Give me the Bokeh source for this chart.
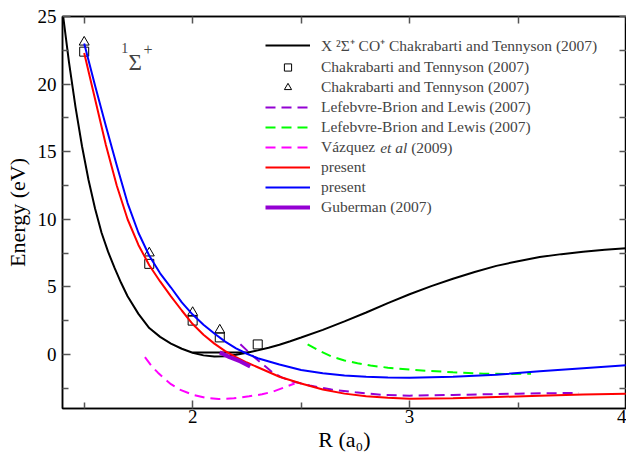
from bokeh.plotting import figure
from bokeh.models import Range1d, LinearAxis, FixedTicker, Label, Legend, LegendItem
from bokeh.embed import file_html
from bokeh.resources import INLINE

# ---------------- data ----------------
# X 2Sigma+ CO+ ground state, Chakrabarti and Tennyson (2007)
ion_R = [1.40, 1.43, 1.46, 1.49, 1.52, 1.55, 1.58, 1.61, 1.64, 1.67, 1.70, 1.75, 1.80, 1.85,
         1.90, 1.95, 2.00, 2.05, 2.10, 2.15, 2.20, 2.25, 2.30, 2.35, 2.40, 2.45, 2.50, 2.60,
         2.70, 2.80, 2.90, 3.00, 3.10, 3.20, 3.30, 3.40, 3.50, 3.60, 3.70, 3.80, 3.90, 4.00]
ion_E = [25.4, 21.6, 18.3, 15.4, 12.9, 10.8, 9.0, 7.6, 6.4, 5.3, 4.3, 3.0, 1.95, 1.3,
         0.8, 0.42, 0.12, -0.07, -0.15, -0.13, -0.03, 0.12, 0.3, 0.5, 0.72, 0.98, 1.25, 1.82,
         2.45, 3.1, 3.8, 4.45, 5.05, 5.6, 6.1, 6.55, 6.9, 7.2, 7.42, 7.6, 7.75, 7.85]
# vibrational level line of the ion
level_R = [2.0, 2.26]
level_E = [0.15, 0.15]

# Chakrabarti and Tennyson (2007) points
sq_R = [1.5, 1.8, 2.0, 2.125, 2.3]
sq_E = [22.4, 6.7, 2.5, 1.26, 0.74]
tri_R = [1.5, 1.8, 2.0, 2.125]
tri_E = [23.1, 7.5, 3.1, 1.8]

# Lefebvre-Brion and Lewis (2007), violet dashed
lb1_R = [2.22, 2.25, 2.28, 2.31, 2.34, 2.37, 2.41, 2.46, 2.54, 2.64, 2.75, 2.88, 3.00,
         3.20, 3.35, 3.50, 3.65, 3.78]
lb1_E = [0.75, 0.3, -0.15, -0.55, -0.95, -1.35, -1.7, -2.0, -2.3, -2.6, -2.8, -3.0, -3.05,
         -3.0, -2.95, -2.9, -2.87, -2.85]

# Lefebvre-Brion and Lewis (2007), green dashed
lb2_R = [2.53, 2.58, 2.64, 2.70, 2.76, 2.82, 2.90, 3.00, 3.10, 3.20, 3.34, 3.45, 3.56]
lb2_E = [0.75, 0.3, -0.15, -0.45, -0.65, -0.82, -0.98, -1.12, -1.23, -1.32, -1.42, -1.45, -1.42]

# Vazquez et al (2009), magenta dashed
vz_R = [1.78, 1.81, 1.84, 1.87, 1.90, 1.94, 2.00, 2.06, 2.12, 2.19, 2.26, 2.32, 2.37, 2.42, 2.47]
vz_E = [-0.2, -0.85, -1.35, -1.8, -2.2, -2.6, -2.98, -3.2, -3.3, -3.25, -3.1, -2.95, -2.75,
        -2.45, -2.15]

# present work
pr_R = [1.50, 1.55, 1.60, 1.65, 1.70, 1.75, 1.80, 1.85, 1.90, 1.95, 2.00, 2.05, 2.10, 2.15,
        2.20, 2.25, 2.30, 2.40, 2.50, 2.60, 2.70, 2.80, 2.90, 3.00, 3.20, 3.40, 3.60, 3.80, 4.00]
red_E = [22.3, 18.9, 15.5, 12.5, 10.0, 8.1, 6.6, 5.4, 4.3, 3.25, 2.25, 1.45, 0.8, 0.25,
         -0.2, -0.6, -0.95, -1.65, -2.15, -2.6, -2.9, -3.1, -3.2, -3.28, -3.25, -3.15, -3.05,
         -2.97, -2.9]
blue_E = [23.0, 19.9, 16.9, 14.0, 11.2, 9.0, 7.3, 6.0, 4.95, 3.85, 2.95, 2.2, 1.55, 0.95,
          0.45, 0.05, -0.28, -0.75, -1.15, -1.4, -1.55, -1.65, -1.7, -1.72, -1.65, -1.5,
          -1.25, -1.02, -0.8]

# Guberman (2007)
gu_R = [2.125, 2.17, 2.22, 2.265]
gu_E = [0.15, -0.2, -0.52, -0.9]

x_major = [2, 3, 4]
x_minor = [1.5, 2.5, 3.5]
y_major = [0, 5, 10, 15, 20, 25]
y_minor = [-2.5, 2.5, 7.5, 12.5, 17.5, 22.5]

labels = ["X \u00b2\u03a3\u207a CO\u207a Chakrabarti and Tennyson (2007)",
          "Chakrabarti and Tennyson (2007)",
          "Chakrabarti and Tennyson (2007)",
          "Lefebvre-Brion and Lewis (2007)",
          "Lefebvre-Brion and Lewis (2007)",
          "V\u00e1zquez",
          "present",
          "present",
          "Guberman (2007)"]
vz_label_rest = ["et al", "(2009)"]

FONT = "'Liberation Serif', 'Times New Roman', serif"
VIOLET = "#9400d3"
GREEN = "#00ff00"
MAGENTA = "#ff00ff"
DASH = "10 6"
TICK = "#555555"
LEG_FS = 15.5

# ---------------- figure ----------------
X0, X1, Y0, Y1 = 1.4, 4.0, -4.0, 25.0
FL, FT, FB = 62, 16, 52
W, H = 626, 460
p = figure(width=W, height=H, output_backend="svg", toolbar_location=None,
           x_range=Range1d(X0, X1), y_range=Range1d(Y0, Y1),
           min_border_left=FL, min_border_right=0, min_border_top=FT, min_border_bottom=FB)
p.xgrid.visible = False
p.ygrid.visible = False
p.outline_line_color = "black"
p.outline_line_width = 1.5
p.background_fill_color = "white"


def style_main(ax, ticks, minor):
    ax.ticker = FixedTicker(ticks=ticks, minor_ticks=minor)
    ax.major_tick_in = 8
    ax.major_tick_out = 0
    ax.minor_tick_in = 6
    ax.minor_tick_out = 0
    ax.major_tick_line_color = TICK
    ax.minor_tick_line_color = TICK
    ax.major_tick_line_width = 1.5
    ax.minor_tick_line_width = 1.5
    ax.axis_line_color = "black"
    ax.axis_line_width = 1.5
    ax.major_label_text_font = FONT
    ax.major_label_text_font_size = "19px"
    ax.major_label_text_color = "black"
    ax.axis_label_text_font = FONT
    ax.axis_label_text_font_size = "22px"
    ax.axis_label_text_font_style = "normal"
    ax.axis_label_text_color = "black"


def style_mirror(ax, ticks, minor):
    # mirrored ticks only (no labels): everything drawn as minor ticks
    ax.ticker = FixedTicker(ticks=[], minor_ticks=sorted(ticks + minor))
    ax.major_tick_in = 0
    ax.major_tick_out = 0
    ax.minor_tick_in = 7
    ax.minor_tick_out = 0
    ax.minor_tick_line_color = TICK
    ax.minor_tick_line_width = 1.5
    ax.axis_line_color = "black"
    ax.axis_line_width = 1.5
    ax.major_label_standoff = 0
    ax.axis_label_standoff = 0


style_main(p.xaxis[0], x_major, x_minor)
style_main(p.yaxis[0], y_major, y_minor)
p.xaxis[0].axis_label = "R (a\u2080)"
p.xaxis[0].major_label_standoff = 1
p.xaxis[0].axis_label_standoff = 1
p.yaxis[0].axis_label = "Energy (eV)"
p.yaxis[0].major_label_standoff = 6
p.yaxis[0].axis_label_standoff = 5

top_ax = LinearAxis()
right_ax = LinearAxis()
style_mirror(top_ax, x_major, x_minor)
style_mirror(right_ax, y_major, y_minor)
p.add_layout(top_ax, "above")
p.add_layout(right_ax, "right")

# ---------------- glyphs ----------------
r_ion = p.line(ion_R, ion_E, line_color="black", line_width=2)
p.line(level_R, level_E, line_color="black", line_width=2)
r_sq = p.scatter(sq_R, sq_E, marker="square", size=9, fill_alpha=0, line_color="black",
                 line_width=1)
r_tri = p.scatter(tri_R, tri_E, marker="triangle", size=10, fill_alpha=0, line_color="black",
                  line_width=1)
r_lb1 = p.line(lb1_R, lb1_E, line_color=VIOLET, line_width=2, line_dash=DASH)
r_lb2 = p.line(lb2_R, lb2_E, line_color=GREEN, line_width=2, line_dash=DASH)
r_vz = p.line(vz_R, vz_E, line_color=MAGENTA, line_width=2, line_dash=DASH)
r_red = p.line(pr_R, red_E, line_color="#ff0000", line_width=2)
r_blue = p.line(pr_R, blue_E, line_color="#0000ff", line_width=2)
r_gu = p.line(gu_R, gu_E, line_color=VIOLET, line_width=4)

# ---------------- legend ----------------
LEG_X, LEG_Y = 203, 192
GW, GH, SP, STAND = 45, 18, 2, 11
renderers = [r_ion, r_sq, r_tri, r_lb1, r_lb2, r_vz, r_red, r_blue, r_gu]
items = [LegendItem(label=lab, renderers=[r]) for lab, r in zip(labels, renderers)]
legend = Legend(items=items, location=(LEG_X, LEG_Y), glyph_width=GW, glyph_height=GH,
                label_height=GH, spacing=SP, label_standoff=STAND, padding=0, margin=0,
                border_line_alpha=0, background_fill_alpha=0,
                label_text_font=FONT, label_text_font_size=f"{LEG_FS}px")
p.add_layout(legend)

# italic "et al" and "(2009)" continuing the Vazquez legend entry
frame_w = W - FL - 1
frame_h = H - FT - FB
px_x = (X1 - X0) / frame_w
px_y = (Y1 - Y0) / frame_h
n_items = len(items)
leg_h = n_items * GH + (n_items - 1) * SP
row_center_from_bottom = LEG_Y + leg_h - (5 * (GH + SP) + GH / 2)
text_x0 = LEG_X + GW + STAND + 3.498 * LEG_FS + 0.25 * LEG_FS
row_y = Y0 + row_center_from_bottom * px_y
p.add_layout(Label(x=X0 + text_x0 * px_x, y=row_y, text=vz_label_rest[0], text_font=FONT,
                   text_font_size=f"{LEG_FS}px", text_font_style="italic",
                   text_baseline="middle"))
text_x1 = text_x0 + 1.75 * LEG_FS + 0.25 * LEG_FS
p.add_layout(Label(x=X0 + text_x1 * px_x, y=row_y, text=vz_label_rest[1], text_font=FONT,
                   text_font_size=f"{LEG_FS}px", text_baseline="middle"))

# state label  1Sigma+
p.add_layout(Label(x=1.671, y=22.7, text="1", text_font=FONT, text_font_size="14px",
                   text_baseline="alphabetic"))
p.add_layout(Label(x=1.704, y=21.6, text="\u03a3", text_font=FONT, text_font_size="23px",
                   text_baseline="alphabetic"))
p.add_layout(Label(x=1.773, y=22.55, text="+", text_font=FONT, text_font_size="16px",
                   text_baseline="alphabetic"))

open("out.html", "w").write(file_html(p, INLINE))
